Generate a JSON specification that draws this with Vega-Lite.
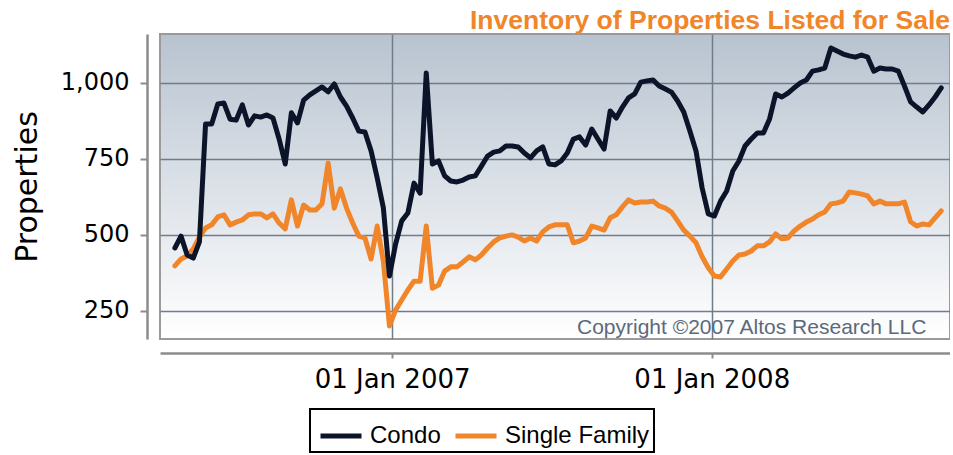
{
  "$schema": "https://vega.github.io/schema/vega-lite/v6.json",
  "width": 790,
  "height": 305,
  "padding": {"left": 12, "top": 7, "right": 0, "bottom": 0},
  "background": "white",
  "title": {"text": "Inventory of Properties Listed for Sale", "anchor": "end", "font": "Liberation Sans", "fontWeight": "bold", "fontSize": 26.5, "color": "#f0852a", "offset": 0},
  "config": {
    "view": {
      "fill": {"gradient": "linear", "x1": 0, "y1": 0, "x2": 0, "y2": 1, "stops": [{"offset": 0, "color": "#b8c3d0"}, {"offset": 1, "color": "#ffffff"}]},
      "stroke": "#9a9a9a",
      "strokeWidth": 2
    },
    "axis": {
      "gridColor": "#6f7c8a", "gridWidth": 1.5, "gridOpacity": 1,
      "domainColor": "#8c8c8c", "domainWidth": 2.5,
      "tickColor": "#8c8c8c", "tickWidth": 2,
      "labelFont": "DejaVu Sans", "labelFontSize": 24, "labelColor": "#000000",
      "titleFont": "DejaVu Sans", "titleFontSize": 30, "titleFontWeight": "normal", "titleColor": "#000000"
    }
  },
  "data": {"values": [
    {"date": "2006-04-28", "condo": 457, "single_family": 398},
    {"date": "2006-05-05", "condo": 496, "single_family": 421},
    {"date": "2006-05-12", "condo": 434, "single_family": 431},
    {"date": "2006-05-19", "condo": 424, "single_family": 454},
    {"date": "2006-05-26", "condo": 477, "single_family": 493},
    {"date": "2006-06-02", "condo": 864, "single_family": 523},
    {"date": "2006-06-09", "condo": 864, "single_family": 533},
    {"date": "2006-06-16", "condo": 930, "single_family": 559},
    {"date": "2006-06-23", "condo": 933, "single_family": 566},
    {"date": "2006-06-30", "condo": 880, "single_family": 533},
    {"date": "2006-07-07", "condo": 877, "single_family": 542},
    {"date": "2006-07-14", "condo": 927, "single_family": 549},
    {"date": "2006-07-21", "condo": 861, "single_family": 566},
    {"date": "2006-07-28", "condo": 891, "single_family": 569},
    {"date": "2006-08-04", "condo": 887, "single_family": 569},
    {"date": "2006-08-11", "condo": 894, "single_family": 556},
    {"date": "2006-08-18", "condo": 884, "single_family": 569},
    {"date": "2006-08-25", "condo": 815, "single_family": 539},
    {"date": "2006-09-01", "condo": 733, "single_family": 520},
    {"date": "2006-09-08", "condo": 901, "single_family": 615},
    {"date": "2006-09-15", "condo": 868, "single_family": 529},
    {"date": "2006-09-22", "condo": 943, "single_family": 598},
    {"date": "2006-09-29", "condo": 960, "single_family": 582},
    {"date": "2006-10-06", "condo": 973, "single_family": 582},
    {"date": "2006-10-13", "condo": 986, "single_family": 602},
    {"date": "2006-10-20", "condo": 970, "single_family": 736},
    {"date": "2006-10-27", "condo": 996, "single_family": 588},
    {"date": "2006-11-03", "condo": 953, "single_family": 651},
    {"date": "2006-11-10", "condo": 923, "single_family": 588},
    {"date": "2006-11-17", "condo": 884, "single_family": 539},
    {"date": "2006-11-24", "condo": 841, "single_family": 496},
    {"date": "2006-12-01", "condo": 838, "single_family": 490},
    {"date": "2006-12-08", "condo": 776, "single_family": 421},
    {"date": "2006-12-15", "condo": 687, "single_family": 529},
    {"date": "2006-12-22", "condo": 589, "single_family": 414},
    {"date": "2006-12-29", "condo": 365, "single_family": 201},
    {"date": "2007-01-05", "condo": 470, "single_family": 253},
    {"date": "2007-01-12", "condo": 546, "single_family": 286},
    {"date": "2007-01-19", "condo": 572, "single_family": 319},
    {"date": "2007-01-26", "condo": 670, "single_family": 348},
    {"date": "2007-02-02", "condo": 637, "single_family": 348},
    {"date": "2007-02-09", "condo": 1032, "single_family": 529},
    {"date": "2007-02-16", "condo": 733, "single_family": 325},
    {"date": "2007-02-23", "condo": 743, "single_family": 335},
    {"date": "2007-03-02", "condo": 694, "single_family": 381},
    {"date": "2007-03-09", "condo": 677, "single_family": 395},
    {"date": "2007-03-16", "condo": 674, "single_family": 395},
    {"date": "2007-03-23", "condo": 680, "single_family": 411},
    {"date": "2007-03-30", "condo": 690, "single_family": 428},
    {"date": "2007-04-06", "condo": 694, "single_family": 418},
    {"date": "2007-04-13", "condo": 726, "single_family": 434},
    {"date": "2007-04-20", "condo": 759, "single_family": 457},
    {"date": "2007-04-27", "condo": 772, "single_family": 477},
    {"date": "2007-05-04", "condo": 776, "single_family": 490},
    {"date": "2007-05-11", "condo": 792, "single_family": 496},
    {"date": "2007-05-18", "condo": 792, "single_family": 500},
    {"date": "2007-05-25", "condo": 789, "single_family": 493},
    {"date": "2007-06-01", "condo": 769, "single_family": 480},
    {"date": "2007-06-08", "condo": 753, "single_family": 490},
    {"date": "2007-06-15", "condo": 776, "single_family": 480},
    {"date": "2007-06-22", "condo": 789, "single_family": 510},
    {"date": "2007-06-29", "condo": 733, "single_family": 526},
    {"date": "2007-07-06", "condo": 730, "single_family": 533},
    {"date": "2007-07-13", "condo": 743, "single_family": 533},
    {"date": "2007-07-20", "condo": 769, "single_family": 533},
    {"date": "2007-07-27", "condo": 815, "single_family": 474},
    {"date": "2007-08-03", "condo": 822, "single_family": 480},
    {"date": "2007-08-10", "condo": 795, "single_family": 490},
    {"date": "2007-08-17", "condo": 848, "single_family": 529},
    {"date": "2007-08-24", "condo": 815, "single_family": 523},
    {"date": "2007-08-31", "condo": 782, "single_family": 516},
    {"date": "2007-09-07", "condo": 907, "single_family": 556},
    {"date": "2007-09-14", "condo": 884, "single_family": 566},
    {"date": "2007-09-21", "condo": 920, "single_family": 592},
    {"date": "2007-09-28", "condo": 950, "single_family": 615},
    {"date": "2007-10-05", "condo": 963, "single_family": 605},
    {"date": "2007-10-12", "condo": 1002, "single_family": 608},
    {"date": "2007-10-19", "condo": 1006, "single_family": 608},
    {"date": "2007-10-26", "condo": 1009, "single_family": 611},
    {"date": "2007-11-02", "condo": 989, "single_family": 595},
    {"date": "2007-11-09", "condo": 979, "single_family": 588},
    {"date": "2007-11-16", "condo": 969, "single_family": 575},
    {"date": "2007-11-23", "condo": 940, "single_family": 546},
    {"date": "2007-11-30", "condo": 904, "single_family": 516},
    {"date": "2007-12-07", "condo": 841, "single_family": 496},
    {"date": "2007-12-14", "condo": 776, "single_family": 474},
    {"date": "2007-12-21", "condo": 654, "single_family": 428},
    {"date": "2007-12-28", "condo": 569, "single_family": 392},
    {"date": "2008-01-04", "condo": 562, "single_family": 365},
    {"date": "2008-01-11", "condo": 611, "single_family": 362},
    {"date": "2008-01-18", "condo": 644, "single_family": 388},
    {"date": "2008-01-25", "condo": 710, "single_family": 414},
    {"date": "2008-02-01", "condo": 743, "single_family": 434},
    {"date": "2008-02-08", "condo": 792, "single_family": 437},
    {"date": "2008-02-15", "condo": 815, "single_family": 447},
    {"date": "2008-02-22", "condo": 835, "single_family": 464},
    {"date": "2008-02-29", "condo": 835, "single_family": 464},
    {"date": "2008-03-07", "condo": 881, "single_family": 477},
    {"date": "2008-03-14", "condo": 963, "single_family": 503},
    {"date": "2008-03-21", "condo": 953, "single_family": 487},
    {"date": "2008-03-28", "condo": 966, "single_family": 490},
    {"date": "2008-04-04", "condo": 983, "single_family": 513},
    {"date": "2008-04-11", "condo": 999, "single_family": 529},
    {"date": "2008-04-18", "condo": 1009, "single_family": 542},
    {"date": "2008-04-25", "condo": 1038, "single_family": 552},
    {"date": "2008-05-02", "condo": 1042, "single_family": 566},
    {"date": "2008-05-09", "condo": 1048, "single_family": 575},
    {"date": "2008-05-16", "condo": 1114, "single_family": 602},
    {"date": "2008-05-23", "condo": 1104, "single_family": 605},
    {"date": "2008-05-30", "condo": 1094, "single_family": 611},
    {"date": "2008-06-06", "condo": 1088, "single_family": 641},
    {"date": "2008-06-13", "condo": 1084, "single_family": 638},
    {"date": "2008-06-20", "condo": 1091, "single_family": 634},
    {"date": "2008-06-27", "condo": 1084, "single_family": 628},
    {"date": "2008-07-04", "condo": 1038, "single_family": 602},
    {"date": "2008-07-11", "condo": 1048, "single_family": 611},
    {"date": "2008-07-18", "condo": 1045, "single_family": 602},
    {"date": "2008-07-25", "condo": 1045, "single_family": 602},
    {"date": "2008-08-01", "condo": 1038, "single_family": 602},
    {"date": "2008-08-08", "condo": 989, "single_family": 608},
    {"date": "2008-08-15", "condo": 937, "single_family": 543},
    {"date": "2008-08-22", "condo": 920, "single_family": 529},
    {"date": "2008-08-29", "condo": 904, "single_family": 536},
    {"date": "2008-09-05", "condo": 927, "single_family": 533},
    {"date": "2008-09-12", "condo": 953, "single_family": 556},
    {"date": "2008-09-19", "condo": 983, "single_family": 579}
  ]},
  "layer": [
    {
      "mark": {"type": "line", "strokeWidth": 5, "strokeJoin": "round", "strokeCap": "round"},
      "encoding": {
        "x": {
          "field": "date", "type": "temporal",
          "scale": {"type": "utc", "domain": [{"year": 2006, "month": 4, "date": 11, "utc": true}, {"year": 2008, "month": 9, "date": 29, "utc": true}]},
          "axis": {"title": null, "values": [{"year": 2007, "month": 1, "date": 1, "utc": true}, {"year": 2008, "month": 1, "date": 1, "utc": true}], "format": "%d %b %Y", "offset": 14, "tickSize": 5, "labelPadding": 8, "labelFontSize": 26}
        },
        "y": {
          "field": "single_family", "type": "quantitative",
          "scale": {"domain": [158, 1160], "nice": false, "zero": false},
          "axis": {"title": "Properties", "values": [250, 500, 750, 1000], "format": ",.0f", "offset": 13, "tickSize": 7, "labelPadding": 11, "titlePadding": 18}
        },
        "color": {
          "datum": "Single Family", "type": "nominal",
          "scale": {"domain": ["Condo", "Single Family"], "range": ["#0b1428", "#f0852a"]},
          "legend": {
            "title": null, "orient": "none", "legendX": 150, "legendY": 375, "direction": "horizontal",
            "symbolType": "stroke", "symbolSize": 1681, "symbolStrokeWidth": 5, "symbolOffset": 4,
            "labelFont": "Liberation Sans", "labelFontSize": 24, "labelColor": "#000000",
            "labelOffset": 6, "columnPadding": 4, "padding": 4,
            "strokeColor": "#000000", "fillColor": "#ffffff",
            "encode": {"legend": {"update": {"strokeWidth": {"value": 2}}}}
          }
        }
      }
    },
    {
      "mark": {"type": "line", "strokeWidth": 5, "strokeJoin": "round", "strokeCap": "round"},
      "encoding": {
        "x": {"field": "date", "type": "temporal"},
        "y": {"field": "condo", "type": "quantitative", "axis": {"title": "Properties"}},
        "color": {"datum": "Condo", "type": "nominal"}
      }
    },
    {
      "data": {"values": [{"label": "Copyright ©2007 Altos Research LLC"}]},
      "mark": {"type": "text", "align": "right", "baseline": "alphabetic", "font": "Liberation Sans", "fontSize": 21, "color": "#5b6a7b"},
      "encoding": {
        "x": {"datum": {"year": 2008, "month": 9, "date": 2, "utc": true}, "type": "temporal"},
        "y": {"datum": 175, "type": "quantitative"},
        "text": {"field": "label"}
      }
    }
  ]
}
